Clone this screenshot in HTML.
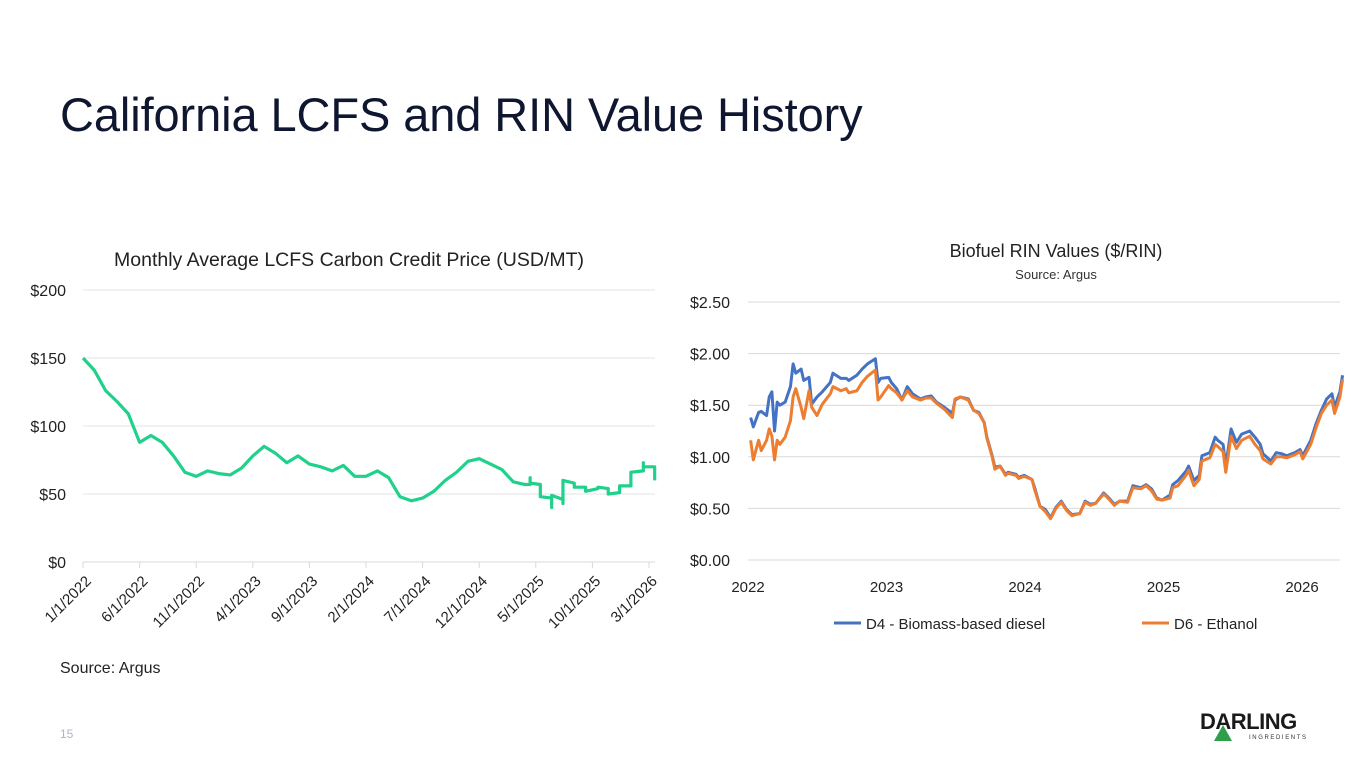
<!DOCTYPE html>
<html><head><meta charset="utf-8"><style>
html,body{margin:0;padding:0;background:#fff;}
svg{display:block;font-family:"Liberation Sans",sans-serif;}
</style></head><body>
<svg id="page" width="1365" height="768" viewBox="0 0 1365 768">
<text x="60" y="131" font-size="47" fill="#0f1630" letter-spacing="-0.1">California LCFS and RIN Value History</text>
<g id="lcfs">
<text x="349" y="266" font-size="19.5" fill="#222" text-anchor="middle">Monthly Average LCFS Carbon Credit Price (USD/MT)</text>
</g>
<g id="rin">
<text x="1056" y="257" font-size="18" fill="#222" text-anchor="middle">Biofuel RIN Values ($/RIN)</text>
<text x="1056" y="279" font-size="13" fill="#333" text-anchor="middle">Source: Argus</text>
</g>
<text x="60" y="673" font-size="16" fill="#222">Source: Argus</text>
<text x="60" y="738" font-size="12" fill="#a9b6cc">15</text>
<g>
<text x="1200" y="729" font-size="22" font-weight="bold" fill="#1a1a1a" letter-spacing="-0.5">DARLING</text>
<text x="1249" y="739" font-size="6" fill="#333" letter-spacing="1.6">INGREDIENTS</text>
<polygon points="1223,725 1214,741 1232,741" fill="#2e9e4a"/>
</g>
</svg>
<script>
const NS="http://www.w3.org/2000/svg";
function mk(p,tag,attrs){const e=document.createElementNS(NS,tag);for(const k in attrs)e.setAttribute(k,attrs[k]);p.appendChild(e);return e;}

// ---- LCFS data ----
const lcfsMonths=[0,1,2,3,4,5,6,7,8,9,10,11,12,13,14,15,16,17,18,19,20,21,22,23,24,25,26,27,28,29,30,31,32,33,34,35,36,37,38,39,39.5,39.5,39.5,40.4,40.4,41.4,41.4,41.4,42.4,42.4,42.4,43.4,43.4,44.4,44.4,45.5,45.5,46.4,46.4,47.4,47.4,48.4,48.4,49.5,49.5,49.5,50.5,50.5];
const lcfsValues=[150,141,126,118,109,88,93,88,78,66,63,67,65,64,69,78,85,80,73,78,72,70,67,71,63,63,67,62,48,45,47,52,60,66,74,76,72,68,59,57,57,62,58,57,48,47,40,49,46,43,60,58,55,55,52,54,55,54,50,51,56,56,66,67,73,70,70,60];
const lcfsYTicks=[0,50,100,150,200];
const lcfsYLabels=["$0","$50","$100","$150","$200"];
const lcfsXTickMonths=[0,5,10,15,20,25,30,35,40,45,50];
const lcfsXLabels=["1/1/2022","6/1/2022","11/1/2022","4/1/2023","9/1/2023","2/1/2024","7/1/2024","12/1/2024","5/1/2025","10/1/2025","3/1/2026"];

// ---- RIN data ----
const rinWeeks=[1,2,4,5,7,8,9,10,11,12,14,16,17,18,20,21,23,24,26,28,31,32,35,37,38,41,43,45,48,49,50,53,54,56,58,60,62,65,67,69,71,74,77,78,80,83,85,87,89,90,92,93,95,97,98,101,102,104,107,108,110,112,114,116,118,120,122,125,127,129,131,134,136,138,140,143,145,148,150,152,154,156,159,160,162,165,166,168,170,171,174,176,177,179,180,182,184,186,189,191,193,194,197,199,201,203,206,208,209,212,214,216,218,220,221,223,224];
const d4Values=[1.38,1.29,1.43,1.44,1.40,1.58,1.63,1.25,1.53,1.50,1.53,1.68,1.90,1.81,1.85,1.74,1.77,1.51,1.58,1.63,1.72,1.81,1.76,1.76,1.74,1.79,1.85,1.90,1.95,1.72,1.76,1.77,1.72,1.66,1.55,1.68,1.61,1.56,1.58,1.59,1.53,1.48,1.42,1.55,1.58,1.56,1.45,1.43,1.33,1.19,1.01,0.90,0.91,0.83,0.85,0.83,0.80,0.82,0.78,0.70,0.52,0.49,0.41,0.51,0.57,0.49,0.44,0.45,0.57,0.54,0.55,0.65,0.60,0.54,0.57,0.57,0.72,0.70,0.73,0.69,0.60,0.58,0.63,0.73,0.77,0.86,0.91,0.77,0.82,1.01,1.04,1.19,1.16,1.12,0.91,1.27,1.14,1.22,1.25,1.19,1.12,1.03,0.96,1.04,1.03,1.01,1.04,1.07,1.01,1.16,1.32,1.45,1.56,1.61,1.48,1.63,1.79];
const d6Values=[1.16,0.97,1.16,1.06,1.16,1.27,1.20,0.97,1.16,1.12,1.19,1.35,1.58,1.66,1.48,1.37,1.64,1.48,1.40,1.51,1.61,1.68,1.64,1.66,1.62,1.64,1.72,1.78,1.84,1.55,1.58,1.69,1.66,1.62,1.55,1.64,1.58,1.55,1.57,1.57,1.52,1.46,1.38,1.56,1.58,1.55,1.45,1.42,1.33,1.18,1.00,0.88,0.91,0.82,0.84,0.82,0.79,0.81,0.78,0.68,0.52,0.47,0.40,0.50,0.56,0.48,0.43,0.45,0.56,0.53,0.55,0.64,0.59,0.53,0.57,0.56,0.70,0.69,0.72,0.67,0.59,0.58,0.60,0.70,0.72,0.82,0.87,0.72,0.78,0.96,0.99,1.12,1.10,1.05,0.85,1.20,1.08,1.16,1.20,1.12,1.06,0.98,0.93,1.00,1.00,0.99,1.02,1.05,0.98,1.12,1.28,1.42,1.50,1.55,1.42,1.58,1.75];
const rinYTicks=[0,0.5,1,1.5,2,2.5];
const rinYLabels=["$0.00","$0.50","$1.00","$1.50","$2.00","$2.50"];
const rinXTicks=[2022,2023,2024,2025,2026];
const rinXLabels=["2022","2023","2024","2025","2026"];

// ---- LCFS chart ----
(function(){
const g=document.getElementById('lcfs');
const x=m=>83+m*(649-83)/50;
const y=v=>562-v*(562-290)/200;
lcfsYTicks.forEach((t,i)=>{
 const l=mk(g,'line',{x1:83,x2:655,y1:y(t),y2:y(t),stroke:i===0?'#d9d9d9':'#e3e3e3','stroke-width':1});
 
 
 const tx=mk(g,'text',{x:66,y:y(t)+6,'font-size':16,fill:'#222','text-anchor':'end'});
 tx.textContent=lcfsYLabels[i];
 
 
});
lcfsXTickMonths.forEach((m,i)=>{
 const tk=mk(g,'line',{x1:x(m),x2:x(m),y1:562,y2:568,stroke:'#d9d9d9'});
 
 
 const tx=mk(g,'text',{x:x(m)+9,y:582,'font-size':15,fill:'#222','text-anchor':'end',transform:`rotate(-45 ${x(m)+9} 582)`});
 tx.textContent=lcfsXLabels[i];
 
 
});
const p=mk(g,'polyline',{points:lcfsMonths.map((m,i)=>x(m)+','+y(lcfsValues[i])).join(' '),fill:'none',stroke:'#1fd18a','stroke-width':3.2,'stroke-linejoin':'round'});


})();

// ---- RIN chart ----
(function(){
const g=document.getElementById('rin');
const x=yr=>748+(yr-2022)*138.5;
const y=v=>560-v*103.2;
rinYTicks.forEach((t,i)=>{
 const l=mk(g,'line',{x1:748,x2:1340,y1:y(t),y2:y(t),stroke:'#d9d9d9','stroke-width':1});
 
 
 const tx=mk(g,'text',{x:730,y:y(t)+6,'font-size':16,fill:'#222','text-anchor':'end'});
 tx.textContent=rinYLabels[i];
 
 
});
rinXTicks.forEach((t,i)=>{
 const tx=mk(g,'text',{x:x(t),y:592,'font-size':15,fill:'#222','text-anchor':'middle'});
 tx.textContent=rinXLabels[i];
 
 
});
const wx=w=>x(2022+w/52.18);
const l4=mk(g,'polyline',{points:rinWeeks.map((w,i)=>wx(w)+','+y(d4Values[i])).join(' '),fill:'none',stroke:'#4472c4','stroke-width':3,'stroke-linejoin':'round'});


const l6=mk(g,'polyline',{points:rinWeeks.map((w,i)=>wx(w)+','+y(d6Values[i])).join(' '),fill:'none',stroke:'#ed7d31','stroke-width':3,'stroke-linejoin':'round'});


const a=mk(g,'line',{x1:834,x2:861,y1:623,y2:623,stroke:'#4472c4','stroke-width':3});


const at=mk(g,'text',{x:866,y:629,'font-size':15,fill:'#222'});
at.textContent='D4 - Biomass-based diesel';


const b=mk(g,'line',{x1:1142,x2:1169,y1:623,y2:623,stroke:'#ed7d31','stroke-width':3});


const bt=mk(g,'text',{x:1174,y:629,'font-size':15,fill:'#222'});
bt.textContent='D6 - Ethanol';


})();
</script>
</body></html>
